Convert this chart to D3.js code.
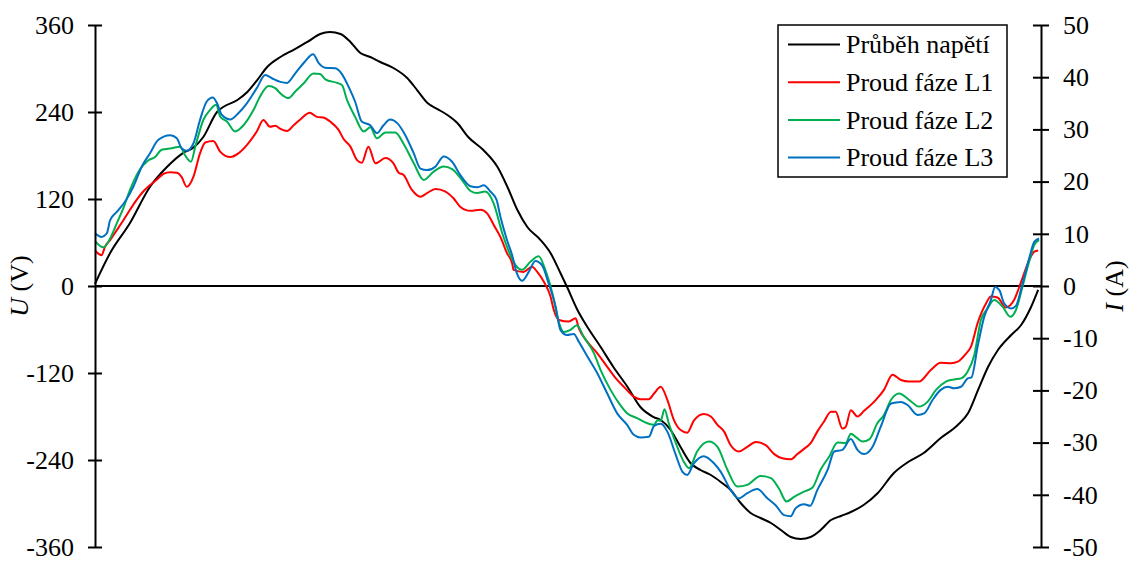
<!DOCTYPE html>
<html>
<head>
<meta charset="utf-8">
<script src="https://cdn.jsdelivr.net/npm/d3@7"></script>
<style>
  html, body { margin: 0; padding: 0; background: #fff; }
  svg { display: block; font-family: "Liberation Serif", "Times New Roman", serif; }
</style>
</head>
<body>
<svg id="chart" width="1131" height="561"></svg>
<script>
// One period of supply voltage and three phase currents, time in ms.
const tU = [0,0.32,0.74,1.16,1.52,1.86,2.07,2.29,2.58,2.71,3.01,3.22,3.43,3.64,3.92,4.19,4.49,4.76,4.97,5.19,5.40,5.61,5.82,6.03,6.31,6.60,6.81,7.03,7.24,7.45,7.66,7.89,8.21,8.51,8.72,8.93,9.14,9.42,9.63,9.84,9.99,10.20,10.41,10.69,10.96,11.26,11.53,11.81,11.96,12.17,12.38,12.59,12.80,13.02,13.23,13.44,13.65,13.86,14.07,14.29,14.50,14.71,14.92,15.13,15.34,15.56,15.77,15.98,16.25,16.55,16.89,17.19,17.52,17.88,18.24,18.46,18.67,18.88,19.09,19.37,19.58,19.79,19.94];
const U = [3,45.5,86.9,136.6,164.1,183.4,190.3,205.5,240.0,246.9,256.6,267.6,284.1,302.1,315.9,325.5,336.6,347.6,350.3,347.6,336.6,321.4,315.9,309.0,300.7,286.9,270.3,252.4,244.1,235.9,224.8,205.5,187.6,164.1,136.6,104.8,81.4,63.4,45.5,17.9,-2.8,-33.1,-56.6,-84.1,-111.7,-139.3,-166.9,-180.7,-184.8,-198.6,-222.1,-244.1,-253.8,-260.7,-270.3,-281.4,-299.3,-313.1,-320.0,-326.9,-336.6,-346.2,-349.0,-346.2,-336.6,-322.8,-317.2,-311.7,-302.1,-285.5,-257.9,-242.8,-230.3,-209.7,-191.7,-175.2,-143.4,-111.7,-88.3,-67.6,-53.8,-29.0,-5.5];

const tL1 = [0,0.14,0.21,0.32,0.46,0.60,0.74,0.88,1.02,1.16,1.31,1.45,1.59,1.73,1.83,1.94,2.08,2.22,2.33,2.50,2.65,2.86,3.03,3.21,3.42,3.56,3.70,3.81,3.92,4.06,4.20,4.34,4.54,4.69,4.83,4.97,5.15,5.26,5.40,5.54,5.64,5.78,5.93,6.14,6.31,6.42,6.52,6.70,6.88,7.02,7.20,7.41,7.58,7.72,7.94,8.15,8.29,8.43,8.57,8.71,8.82,8.85,9.06,9.24,9.35,9.49,9.63,9.70,9.81,10.02,10.16,10.23,10.41,10.62,10.83,11.04,11.18,11.39,11.53,11.71,11.82,11.96,12.10,12.24,12.38,12.52,12.66,12.87,13.02,13.16,13.30,13.44,13.61,13.79,13.97,14.18,14.36,14.53,14.71,14.85,14.99,15.13,15.27,15.41,15.56,15.66,15.80,15.87,15.98,16.12,16.26,16.51,16.68,16.86,17.04,17.21,17.42,17.67,17.88,18.10,18.24,18.41,18.52,18.66,18.84,18.94,19.08,19.26,19.43,19.58,19.72,19.86,19.94];
const L1 = [6.8,5.9,7.5,8.8,10.7,12.6,14.6,16.5,18.1,19.3,20.4,21.5,21.8,21.7,20.9,19.0,20.9,25.4,27.5,27.8,25.7,24.7,25.4,27.0,29.6,31.8,30.5,30.7,30.1,29.7,30.8,31.9,33.2,32.4,32.3,31.5,29.9,28.1,26.7,24.1,23.6,26.7,23.5,24.5,23.5,21.7,21.3,18.4,17.1,17.8,18.6,18.1,16.8,15.2,14.4,14.6,13.9,11.7,9.4,6.3,4.3,3.1,2.7,3.7,2.7,0.8,-2.0,-4.6,-6.5,-6.8,-6.2,-8.1,-10.7,-12.9,-15.5,-18.0,-19.3,-21.2,-21.7,-21.7,-20.6,-19.3,-21.8,-25.7,-27.6,-28.1,-25.8,-24.5,-25.0,-26.6,-27.9,-30.5,-31.7,-30.8,-29.9,-30.5,-32.2,-33.0,-33.2,-32.2,-31.2,-30.1,-27.9,-26.0,-24.1,-24.1,-27.3,-27.0,-23.8,-25.0,-23.9,-21.8,-19.9,-17.0,-18.0,-18.3,-18.3,-16.1,-14.7,-14.8,-14.5,-13.0,-11.6,-7.1,-3.3,-2.0,-2.2,-4.1,-2.7,0.8,4.3,6.6,6.8];

const tL2 = [0,0.18,0.32,0.46,0.60,0.74,0.92,1.13,1.27,1.41,1.62,1.80,1.90,2.03,2.12,2.29,2.43,2.56,2.65,2.79,2.96,3.14,3.35,3.49,3.67,3.81,3.92,4.09,4.23,4.41,4.62,4.76,4.87,5.12,5.22,5.33,5.50,5.68,5.82,5.96,6.14,6.35,6.52,6.74,6.95,7.16,7.37,7.55,7.76,7.94,8.08,8.25,8.43,8.61,8.75,8.89,9.03,9.21,9.38,9.52,9.67,9.81,9.91,10.05,10.19,10.33,10.55,10.69,10.90,11.08,11.25,11.46,11.68,11.82,11.89,11.96,12.04,12.13,12.28,12.45,12.56,12.73,12.98,13.16,13.37,13.58,13.79,14.07,14.29,14.46,14.62,14.78,14.99,15.17,15.34,15.52,15.70,15.87,15.98,16.08,16.23,16.37,16.54,16.68,16.83,17.00,17.21,17.42,17.60,17.78,17.99,18.16,18.31,18.45,18.59,18.73,18.87,19.01,19.19,19.35,19.47,19.61,19.75,19.86,19.96];
const L2 = [8.6,7.4,9.1,12.0,14.9,18.4,21.9,24.1,24.7,26.1,26.4,26.7,25.1,23.8,26.7,31.8,33.7,34.7,32.4,31.5,29.6,30.8,33.7,36.3,38.3,37.9,36.9,36.0,37.2,38.8,40.7,40.6,39.6,38.9,38.5,35.6,32.4,29.6,30.4,28.3,29.4,29.4,27.3,23.5,20.3,21.9,22.9,22.4,20.3,18.2,17.8,18.1,15.8,10.1,6.6,4.0,3.1,4.7,5.7,3.1,-1.4,-7.1,-8.8,-8.4,-7.5,-9.7,-12.9,-16.1,-19.9,-22.5,-24.4,-25.3,-26.3,-26.6,-25.7,-25.8,-23.6,-26.3,-30.1,-33.7,-34.9,-31.7,-29.8,-30.8,-35.2,-38.4,-38.1,-36.4,-36.8,-38.8,-41.3,-40.4,-39.4,-38.6,-35.2,-32.7,-30.0,-30.1,-28.3,-28.9,-29.8,-29.4,-26.3,-24.7,-21.8,-20.6,-21.8,-23.1,-22.2,-19.9,-18.3,-17.9,-17.7,-16.4,-13.2,-6.5,-4.3,-2.7,-4.0,-5.9,-4.6,-0.1,4.7,7.9,8.8];

const tL3 = [0,0.14,0.25,0.32,0.46,0.63,0.81,0.99,1.16,1.34,1.59,1.73,1.83,1.94,2.08,2.22,2.36,2.49,2.58,2.68,2.86,3.03,3.21,3.42,3.60,3.74,3.92,4.06,4.23,4.44,4.61,4.73,4.87,5.08,5.22,5.36,5.50,5.64,5.82,5.96,6.10,6.24,6.39,6.56,6.74,6.88,7.02,7.20,7.37,7.55,7.72,7.94,8.08,8.22,8.36,8.49,8.57,8.71,8.82,8.92,9.03,9.17,9.31,9.45,9.59,9.74,9.84,9.98,10.12,10.23,10.41,10.62,10.83,11.04,11.25,11.39,11.53,11.71,11.82,11.96,12.10,12.28,12.42,12.52,12.66,12.87,13.09,13.23,13.44,13.61,13.79,14.00,14.22,14.39,14.57,14.71,14.81,14.99,15.12,15.27,15.49,15.63,15.80,15.98,16.12,16.26,16.44,16.61,16.83,17.04,17.18,17.39,17.53,17.71,17.88,18.03,18.16,18.31,18.45,18.53,18.66,18.80,18.94,19.03,19.12,19.22,19.37,19.47,19.61,19.75,19.86,19.96];
const L3 = [10.1,9.4,10.1,12.6,14.2,16.1,19.0,22.9,25.4,28.0,28.9,28.3,26.4,25.9,27.3,31.8,35.3,36.1,35.0,32.8,31.9,33.1,35.0,37.9,40.4,39.8,39.1,38.9,40.7,43.0,44.4,42.7,41.8,41.7,40.6,38.2,35.3,31.5,30.8,29.3,30.8,31.9,31.2,28.9,25.4,22.5,22.2,22.9,24.8,23.8,21.3,19.1,18.9,19.3,18.1,16.5,13.3,8.8,5.9,2.4,1.0,2.7,4.8,4.0,0.5,-4.0,-8.4,-9.4,-9.2,-10.7,-13.5,-16.7,-20.6,-24.4,-26.6,-28.5,-29.0,-28.9,-26.8,-26.4,-27.9,-32.4,-35.6,-36.2,-34.0,-32.6,-34.0,-35.6,-39.1,-40.7,-39.7,-38.9,-40.7,-42.0,-43.9,-44.1,-42.6,-41.8,-42.1,-39.1,-35.2,-31.7,-31.4,-29.3,-31.4,-32.2,-30.8,-27.0,-22.5,-22.2,-22.8,-24.7,-24.4,-21.8,-19.9,-19.3,-19.6,-19.3,-17.7,-17.5,-11.6,-5.9,-2.7,-0.2,-0.8,-3.3,-4.3,-3.8,0.5,5.3,8.5,9.1];

const uTicks = [-360, -240, -120, 0, 120, 240, 360];
const iTicks = [-50, -40, -30, -20, -10, 0, 10, 20, 30, 40, 50];
const seriesNames = ["Průběh napětí", "Proud fáze L1", "Proud fáze L2", "Proud fáze L3"];
const seriesColors = ["#000000", "#ff0000", "#00b050", "#0070c0"];

const svg = d3.select("#chart");
const plotLeft = 95, plotRight = 1041, plotTop = 25, plotBottom = 547;
const fontSize = 26;

const x = d3.scaleLinear().domain([0, 20]).range([plotLeft, plotRight]);
const yU = d3.scaleLinear().domain([-360, 360]).range([plotBottom, plotTop]);
const yI = d3.scaleLinear().domain([-50, 50]).range([plotBottom, plotTop]);

// zero reference line
svg.append("line")
  .attr("x1", plotLeft).attr("x2", plotRight)
  .attr("y1", yU(0)).attr("y2", yU(0))
  .attr("stroke", "#000").attr("stroke-width", 2);

const pairs = (ts, vs) => ts.map((t, i) => [t, vs[i]]);

const lineU = d3.line().x(d => x(d[0])).y(d => yU(d[1])).curve(d3.curveMonotoneX);
const lineI = d3.line().x(d => x(d[0])).y(d => yI(d[1])).curve(d3.curveMonotoneX);

svg.append("path").datum(pairs(tU, U))
  .attr("d", lineU).attr("fill", "none")
  .attr("stroke", seriesColors[0]).attr("stroke-width", 2);

[[tL1, L1], [tL2, L2], [tL3, L3]].forEach(([ts, vs], k) => {
  svg.append("path").datum(pairs(ts, vs))
    .attr("d", lineI).attr("fill", "none")
    .attr("stroke", seriesColors[k + 1]).attr("stroke-width", 2)
    .attr("stroke-linejoin", "round");
});

// axes with ticks crossing the axis line; labels use a plain hyphen minus
function styleAxis(g, half) {
  g.select(".domain").attr("stroke", "#000").attr("stroke-width", 2);
  g.selectAll(".tick").append("line")
    .attr("x1", -half).attr("x2", half)
    .attr("stroke", "#000").attr("stroke-width", 2);
  g.selectAll(".tick text")
    .attr("font-family", "Liberation Serif, Times New Roman, serif")
    .attr("font-size", fontSize).attr("fill", "#000");
}
const plainNumber = d => String(d);

const axL = svg.append("g").attr("transform", `translate(${plotLeft},0)`)
  .call(d3.axisLeft(yU).tickValues(uTicks).tickFormat(plainNumber)
    .tickSize(0).tickSizeOuter(0).tickPadding(21));
styleAxis(axL, 7);

const axR = svg.append("g").attr("transform", `translate(${plotRight},0)`)
  .call(d3.axisRight(yI).tickValues(iTicks).tickFormat(plainNumber)
    .tickSize(0).tickSizeOuter(0).tickPadding(22));
styleAxis(axR, 8);

// axis titles
function axisTitle(cx, sym, unit) {
  const t = svg.append("text")
    .attr("transform", `translate(${cx},${(plotTop + plotBottom) / 2}) rotate(-90)`)
    .attr("text-anchor", "middle")
    .attr("font-size", fontSize);
  t.append("tspan").attr("font-style", "italic").text(sym);
  t.append("tspan").text(" " + unit);
}
axisTitle(28, "U", "(V)");
axisTitle(1123, "I", "(A)");

// legend
const lg = svg.append("g").attr("transform", "translate(778,25)");
lg.append("rect").attr("width", 229).attr("height", 152)
  .attr("fill", "#fff").attr("stroke", "#000").attr("stroke-width", 1.5);
seriesNames.forEach((name, i) => {
  const cy = 19.5 + i * 37.7;
  lg.append("line").attr("x1", 10).attr("x2", 62).attr("y1", cy).attr("y2", cy)
    .attr("stroke", seriesColors[i]).attr("stroke-width", 2);
  lg.append("text").attr("x", 68).attr("y", cy).attr("dy", "0.34em")
    .attr("font-size", fontSize).text(name);
});
</script>
</body>
</html>
